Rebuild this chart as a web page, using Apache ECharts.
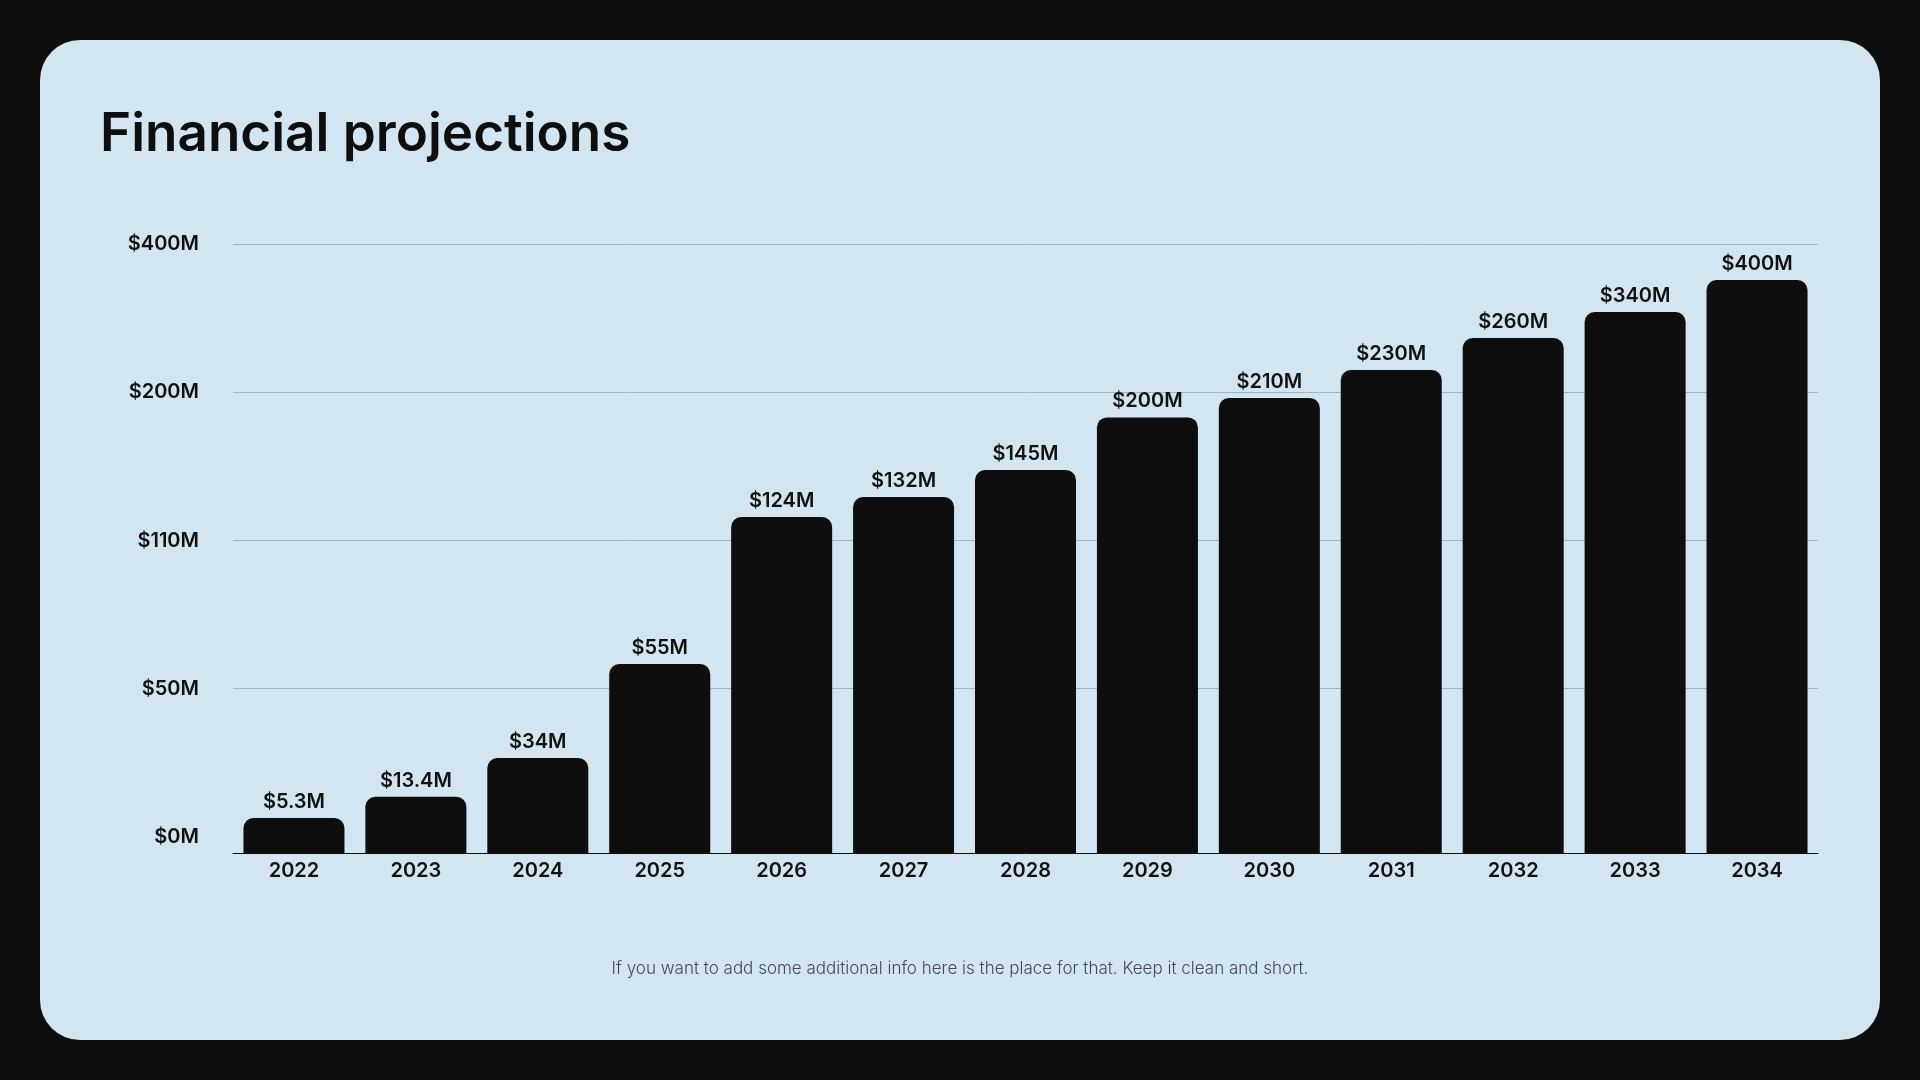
<!DOCTYPE html>
<html>
<head>
<meta charset="utf-8">
<script src="https://cdn.jsdelivr.net/npm/echarts@6/dist/echarts.min.js"></script>
<style>
  html, body { margin: 0; padding: 0; background: #0e0e0e; }
  #chart { width: 1920px; height: 1080px; }
</style>
</head>
<body>
<div id="chart"></div>
<script>
// Data
const years = ['2022','2023','2024','2025','2026','2027','2028','2029','2030','2031','2032','2033','2034'];
const valueLabels = ['$5.3M','$13.4M','$34M','$55M','$124M','$132M','$145M','$200M','$210M','$230M','$260M','$340M','$400M'];
// Bar heights as drawn, in units of one y-axis tick step (the axis ticks are not linear in dollars)
const barHeights = [0.236, 0.380, 0.641, 1.276, 2.269, 2.404, 2.586, 2.941, 3.072, 3.261, 3.477, 3.653, 3.869];
const tickLabels = ['$0M', '$50M', '$110M', '$200M', '$400M'];

const FONT = 'Inter, "Noto Sans", sans-serif';
const chart = echarts.init(document.getElementById('chart'), null, { renderer: 'canvas' });

chart.setOption({
  backgroundColor: '#0e0e0e',
  animation: false,
  graphic: [
    { type: 'rect', z: -10, silent: true,
      shape: { x: 40, y: 40, width: 1840, height: 1000, r: 40 },
      style: { fill: '#d2e5f0' } },
    { type: 'text', z: 10, left: 100, top: 109,
      style: { text: 'Financial projections', font: '600 53px ' + FONT, fill: '#0e0e0e' } },
    { type: 'text', z: 10, left: 'center', top: 960,
      style: { text: 'If you want to add some additional info here is the place for that. Keep it clean and short.',
               font: '300 17px ' + FONT, fill: '#444a50' } }
  ],
  grid: [
    { left: 233, right: 102, top: 244.3, bottom: 1080 - 853, containLabel: false },
    { left: 233, right: 102, top: 244.3, bottom: 1080 - 836.7, containLabel: false }
  ],
  xAxis: [
    { type: 'category', gridIndex: 0, data: years,
      axisLine: { show: true, lineStyle: { color: '#0e0e0e', width: 1 } },
      axisTick: { show: false },
      axisLabel: { color: '#111', fontFamily: FONT, fontWeight: 600, fontSize: 20, margin: 8 } },
    { type: 'value', gridIndex: 1, show: false, min: 0, max: 1 }
  ],
  yAxis: [
    { type: 'value', gridIndex: 0, min: 0, max: 4.11, show: false, splitLine: { show: false } },
    { type: 'value', gridIndex: 1, min: 0, max: 4, interval: 1,
      axisLine: { show: false }, axisTick: { show: false },
      axisLabel: { color: '#111', fontFamily: FONT, fontWeight: 600, fontSize: 20, margin: 34,
                   formatter: v => tickLabels[Math.round(v)] },
      splitLine: { show: true, showMinLine: false, lineStyle: { color: '#a3b3c0', width: 1 } } }
  ],
  series: [
    { type: 'bar', xAxisIndex: 0, yAxisIndex: 0, data: barHeights, barWidth: 101,
      itemStyle: { color: '#0e0e0e', borderRadius: [10, 10, 0, 0] },
      label: { show: true, position: 'top', distance: 6,
               formatter: p => valueLabels[p.dataIndex],
               color: '#111', fontFamily: FONT, fontWeight: 600, fontSize: 20 } }
  ]
});
</script>
</body>
</html>
